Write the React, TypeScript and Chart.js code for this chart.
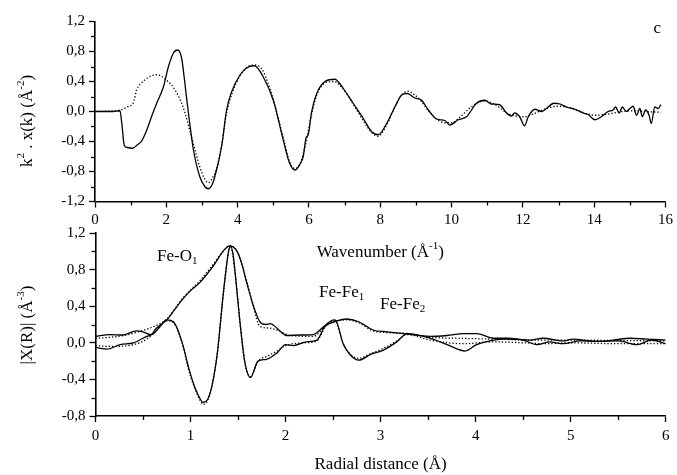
import React, { useEffect, useRef } from 'react';
import { Chart, registerables } from 'chart.js';
Chart.register(...registerables);

// ---------- Top panel: k^2 chi(k) ----------
const kExp = [0, 0.5, 0.7, 0.75, 0.82, 0.9, 1.05, 1.2, 1.3, 1.45, 1.6, 1.73, 1.92, 2.06, 2.2, 2.32, 2.43, 2.52, 2.62, 2.76, 2.94, 3.08, 3.18, 3.28, 3.36, 3.55, 3.69, 3.83, 4.07, 4.25, 4.47, 4.72, 5.0, 5.28, 5.45, 5.61, 5.75, 5.84, 5.92, 5.98, 6.07, 6.22, 6.45, 6.73, 6.85, 6.96, 7.24, 7.52, 7.76, 7.94, 8.18, 8.41, 8.6, 8.76, 8.97, 9.16, 9.35, 9.58, 9.81, 9.95, 10.19, 10.42, 10.7, 10.93, 11.12, 11.35, 11.54, 11.68, 11.77, 11.91, 12.05, 12.15, 12.34, 12.52, 12.66, 12.87, 13.04, 13.22, 13.46, 13.69, 13.83, 14.02, 14.2, 14.39, 14.53, 14.6, 14.7, 14.79, 14.9, 15.0, 15.09, 15.19, 15.28, 15.35, 15.44, 15.54, 15.6, 15.7, 15.79, 15.87];
const chiExp = [0, 0, 0.01, -0.15, -0.45, -0.48, -0.49, -0.44, -0.4, -0.25, -0.05, 0.11, 0.33, 0.6, 0.78, 0.82, 0.71, 0.38, -0.02, -0.51, -0.87, -1.0, -1.03, -0.98, -0.87, -0.47, 0.02, 0.26, 0.49, 0.58, 0.61, 0.46, 0.15, -0.38, -0.68, -0.78, -0.7, -0.6, -0.35, -0.31, -0.02, 0.24, 0.4, 0.43, 0.38, 0.31, 0.11, -0.09, -0.27, -0.31, -0.16, 0.06, 0.22, 0.24, 0.18, 0.15, 0.02, -0.1, -0.12, -0.18, -0.11, -0.07, 0.11, 0.15, 0.1, 0.09, -0.02, -0.06, -0.02, -0.07, -0.19, -0.07, 0.03, 0.0, 0.04, 0.11, 0.1, 0.06, 0.03, -0.02, -0.04, -0.11, -0.07, 0.0, 0.02, 0.06, -0.02, 0.06, 0.0, 0.04, 0.07, -0.05, 0.04, -0.07, 0.02, -0.05, -0.16, 0.06, 0.04, 0.09];

const kFit = [0, 0.7, 0.95, 1.07, 1.17, 1.35, 1.55, 1.73, 2.0, 2.24, 2.47, 2.71, 2.94, 3.08, 3.18, 3.3, 3.41, 3.55, 3.69, 3.85, 4.1, 4.3, 4.5, 4.7, 4.85, 5.0, 5.28, 5.45, 5.6, 5.75, 5.9, 6.07, 6.22, 6.45, 6.7, 6.96, 7.24, 7.52, 7.76, 7.94, 8.18, 8.41, 8.6, 8.78, 8.97, 9.16, 9.35, 9.58, 9.81, 10.0, 10.2, 10.45, 10.7, 10.93, 11.15, 11.35, 11.55, 11.8, 12.05, 12.3, 12.55, 12.8, 13.05, 13.3, 13.55, 13.8, 14.05, 14.3, 14.55, 14.8, 15.1, 15.4, 15.87];
const chiFit = [0, 0.02, 0.07, 0.11, 0.29, 0.4, 0.47, 0.49, 0.42, 0.29, 0.06, -0.34, -0.74, -0.9, -0.95, -0.88, -0.76, -0.45, -0.02, 0.25, 0.5, 0.6, 0.62, 0.55, 0.38, 0.16, -0.35, -0.66, -0.76, -0.7, -0.45, -0.05, 0.22, 0.38, 0.4, 0.3, 0.1, -0.12, -0.28, -0.33, -0.18, 0.06, 0.22, 0.27, 0.22, 0.13, 0.01, -0.1, -0.15, -0.15, -0.09, 0.02, 0.11, 0.14, 0.11, 0.05, -0.02, -0.06, -0.07, -0.03, 0.02, 0.06, 0.07, 0.05, 0.01, -0.03, -0.05, -0.04, -0.02, 0.0, 0.01, 0.0, -0.01];

const kTicks = [0, 2, 4, 6, 8, 10, 12, 14, 16];
const chiTicks = [-1.2, -0.8, -0.4, 0.0, 0.4, 0.8, 1.2];

// ---------- Bottom panel: |X(R)| ----------
const rMagExp = [0, 0.15, 0.29, 0.43, 0.5, 0.58, 0.64, 0.75, 0.83, 0.92, 1.0, 1.1, 1.24, 1.35, 1.41, 1.49, 1.54, 1.59, 1.66, 1.73, 1.79, 1.84, 1.91, 2.01, 2.15, 2.29, 2.42, 2.54, 2.64, 2.77, 2.92, 3.07, 3.24, 3.52, 3.7, 3.87, 4.01, 4.19, 4.33, 4.57, 4.71, 4.92, 5.02, 5.28, 5.45, 5.63, 5.8, 6.0];
const magExp = [0.07, 0.09, 0.085, 0.13, 0.12, 0.09, 0.16, 0.25, 0.36, 0.48, 0.57, 0.66, 0.84, 1.01, 1.06, 1.0, 0.86, 0.66, 0.41, 0.23, 0.2, 0.21, 0.16, 0.08, 0.085, 0.09, 0.19, 0.24, 0.26, 0.23, 0.14, 0.12, 0.1, 0.07, 0.08, 0.1, 0.1, 0.05, 0.05, 0.03, 0.05, 0.02, 0.04, 0.015, 0.03, 0.05, 0.04, 0.03];

const rImExp = [0, 0.12, 0.26, 0.4, 0.54, 0.61, 0.68, 0.75, 0.82, 0.91, 0.99, 1.05, 1.1, 1.13, 1.18, 1.23, 1.28, 1.35, 1.4, 1.42, 1.45, 1.47, 1.52, 1.57, 1.63, 1.71, 1.8, 1.91, 2.0, 2.08, 2.22, 2.33, 2.42, 2.52, 2.61, 2.68, 2.77, 2.89, 3.03, 3.17, 3.28, 3.52, 3.7, 3.89, 4.01, 4.19, 4.33, 4.5, 4.64, 4.78, 4.92, 5.1, 5.28, 5.5, 5.7, 5.85, 6.0];
const imExp = [-0.05, -0.07, -0.02, 0.0, 0.07, 0.1, 0.18, 0.25, 0.23, 0.01, -0.31, -0.5, -0.61, -0.65, -0.62, -0.45, -0.13, 0.59, 1.0, 1.06, 0.95, 0.76, 0.23, -0.2, -0.38, -0.2, -0.18, -0.11, -0.02, -0.03, 0.01, 0.03, 0.19, 0.25, -0.02, -0.13, -0.19, -0.13, -0.08, 0.01, 0.1, 0.05, -0.02, -0.09, -0.02, 0.03, 0.04, 0.03, -0.02, 0.01, -0.01, 0.02, 0.015, 0.02, -0.02, 0.03, -0.01];

const rMagFit = [0, 0.15, 0.3, 0.45, 0.64, 0.75, 0.92, 1.1, 1.24, 1.35, 1.41, 1.49, 1.59, 1.66, 1.73, 1.84, 1.95, 2.05, 2.29, 2.42, 2.54, 2.65, 2.77, 2.92, 3.1, 3.3, 3.52, 3.8, 4.2, 4.6, 5.0, 5.5, 6.0];
const magFit = [0.05, 0.06, 0.08, 0.12, 0.19, 0.26, 0.49, 0.68, 0.86, 1.01, 1.06, 1.0, 0.68, 0.4, 0.18, 0.16, 0.12, 0.08, 0.07, 0.18, 0.24, 0.25, 0.22, 0.13, 0.11, 0.1, 0.06, 0.05, 0.04, 0.03, 0.03, 0.025, 0.02];

const rImFit = [0, 0.15, 0.4, 0.54, 0.65, 0.75, 0.82, 0.91, 0.99, 1.1, 1.13, 1.18, 1.28, 1.35, 1.42, 1.47, 1.52, 1.57, 1.63, 1.71, 1.8, 1.91, 2.0, 2.2, 2.33, 2.42, 2.52, 2.61, 2.77, 2.89, 3.03, 3.17, 3.28, 3.52, 3.87, 4.19, 4.5, 4.71, 5.0, 5.5, 6.0];
const imFit = [-0.03, -0.04, -0.02, 0.04, 0.14, 0.24, 0.22, 0.0, -0.33, -0.63, -0.67, -0.63, -0.13, 0.58, 1.05, 0.75, 0.22, -0.21, -0.37, -0.2, -0.15, -0.09, -0.03, 0.0, 0.02, 0.18, 0.24, -0.02, -0.17, -0.12, -0.06, 0.02, 0.09, 0.03, -0.01, 0.01, 0.0, -0.01, 0.0, -0.01, -0.01];

const rTicks = [0, 1, 2, 3, 4, 5, 6];
const xrTicks = [-0.8, -0.4, 0.0, 0.4, 0.8, 1.2];

const FAMILY = "'Liberation Serif', 'Times New Roman', serif";

type Seg = { t: string; s?: 'sup' | 'sub' };

function drawRich(ctx: CanvasRenderingContext2D, segs: Seg[], x: number, y: number, size: number, align: 'left' | 'center', rot = 0) {
  ctx.save();
  ctx.translate(x, y);
  ctx.rotate(rot);
  ctx.fillStyle = '#000';
  ctx.textAlign = 'left';
  ctx.textBaseline = 'middle';
  const widths = segs.map((s) => {
    ctx.font = `${s.s ? Math.round(size * 0.62) : size}px ${FAMILY}`;
    return ctx.measureText(s.t).width;
  });
  const total = widths.reduce((a, b) => a + b, 0);
  let cx = align === 'center' ? -total / 2 : 0;
  segs.forEach((s, i) => {
    ctx.font = `${s.s ? Math.round(size * 0.62) : size}px ${FAMILY}`;
    const dy = s.s === 'sup' ? -size * 0.38 : s.s === 'sub' ? size * 0.3 : 0;
    ctx.fillText(s.t, cx, dy);
    cx += widths[i];
  });
  ctx.restore();
}

const zip = (xs: number[], ys: number[]) => xs.map((x, i) => ({ x, y: ys[i] }));

const fmt = (v: number) => v.toFixed(1).replace('.', ',');

const minorTicksPlugin = {
  id: 'minorTicks',
  afterDraw(chart: any, _args: any, opts: any) {
    const ctx = chart.ctx;
    const { left, bottom } = chart.chartArea;
    ctx.save();
    ctx.strokeStyle = '#000';
    ctx.lineWidth = 1.3;
    const xs = chart.scales.x;
    const ys = chart.scales.y;
    for (let v = xs.min + opts.x / 2; v < xs.max; v += opts.x) {
      const p = Math.round(xs.getPixelForValue(v)) + 0.5;
      ctx.beginPath();
      ctx.moveTo(p, bottom);
      ctx.lineTo(p, bottom + 4);
      ctx.stroke();
    }
    for (let v = ys.min + opts.y / 2; v < ys.max; v += opts.y) {
      const p = Math.round(ys.getPixelForValue(v)) + 0.5;
      ctx.beginPath();
      ctx.moveTo(left, p);
      ctx.lineTo(left - 4, p);
      ctx.stroke();
    }
    ctx.restore();
  },
};

const textPlugin = {
  id: 'richTexts',
  afterDraw(chart: any, _args: any, opts: any) {
    const ctx = chart.ctx;
    const ca = chart.chartArea;
    (opts.titles || []).forEach((t: any) => {
      const x = t.x === 'center' ? (ca.left + ca.right) / 2 : t.x;
      drawRich(ctx, t.segs, x, t.y, t.size, 'center', t.rot || 0);
    });
    (opts.notes || []).forEach((n: any) => {
      const px = chart.scales.x.getPixelForValue(n.x);
      const py = chart.scales.y.getPixelForValue(n.y);
      drawRich(ctx, n.segs, px, py, n.size, n.align || 'left');
    });
  },
};

const solid = (data: any[]) => ({
  data,
  borderColor: '#000',
  borderWidth: 1.3,
  pointRadius: 0,
  fill: false,
  cubicInterpolationMode: 'monotone' as const,
});
const dotted = (data: any[]) => ({
  data,
  borderColor: '#000',
  borderWidth: 1.3,
  borderDash: [1.3, 2],
  pointRadius: 0,
  fill: false,
  cubicInterpolationMode: 'monotone' as const,
});

function axisCommon(ticks: number[], isY: boolean, labelFmt: (v: number) => string, pad: number) {
  return {
    type: 'linear' as const,
    min: ticks[0],
    max: ticks[ticks.length - 1],
    afterBuildTicks: (scale: any) => {
      scale.ticks = ticks.map((v) => ({ value: v }));
    },
    grid: { display: true, drawOnChartArea: false, drawTicks: true, tickLength: 6, tickColor: '#000', tickWidth: 1.3 },
    border: { display: true, color: '#000', width: 1.6 },
    ticks: {
      color: '#000',
      font: { family: FAMILY, size: 15 },
      padding: pad,
      maxRotation: 0,
      autoSkip: false,
      callback: (v: any) => labelFmt(Number(v)),
    },
  };
}

export default function App() {
  const topRef = useRef<HTMLCanvasElement>(null);
  const botRef = useRef<HTMLCanvasElement>(null);

  useEffect(() => {
    const top = new Chart(topRef.current!, {
      type: 'line',
      data: {
        datasets: [solid(zip(kExp, chiExp)), dotted(zip(kFit, chiFit))],
      },
      options: {
        animation: false,
        responsive: false,
        devicePixelRatio: 1,
        layout: { padding: { top: 21.5, right: 11.3, left: 0, bottom: 0 } },
        plugins: {
          legend: { display: false },
          tooltip: { enabled: false },
          minorTicks: { x: 2, y: 0.4 },
          richTexts: {
            titles: [
              { segs: [{ t: 'Wavenumber (Å' }, { t: '-1', s: 'sup' }, { t: ')' }], x: 'center', y: 253, size: 17 },
              { segs: [{ t: 'k' }, { t: '2', s: 'sup' }, { t: ' . x(k) (Å' }, { t: '-2', s: 'sup' }, { t: ')' }], x: 28, y: 121, size: 17, rot: -Math.PI / 2 },
            ],
            notes: [{ segs: [{ t: 'c' }], x: 15.77, y: 1.11, size: 17, align: 'center' }],
          },
        } as any,
        scales: {
          x: { ...axisCommon(kTicks, false, (v) => String(Math.round(v)), 4), afterFit: (s: any) => { s.height = 68.5; } },
          y: { ...axisCommon(chiTicks, true, fmt, 4), afterFit: (s: any) => { s.width = 95; } },
        } as any,
      },
      plugins: [minorTicksPlugin, textPlugin],
    });

    const bot = new Chart(botRef.current!, {
      type: 'line',
      data: {
        datasets: [
          solid(zip(rMagExp, magExp)),
          solid(zip(rImExp, imExp)),
          dotted(zip(rMagFit, magFit)),
          dotted(zip(rImFit, imFit)),
        ],
      },
      options: {
        animation: false,
        responsive: false,
        devicePixelRatio: 1,
        layout: { padding: { top: 9.3, right: 11.3, left: 0.5, bottom: 0 } },
        plugins: {
          legend: { display: false },
          tooltip: { enabled: false },
          minorTicks: { x: 1, y: 0.4 },
          richTexts: {
            titles: [
              { segs: [{ t: 'Radial distance (Å)' }], x: 'center', y: 245, size: 17 },
              { segs: [{ t: '|X(R)| (Å' }, { t: '-3', s: 'sup' }, { t: ')' }], x: 28, y: 105, size: 17, rot: -Math.PI / 2 },
            ],
            notes: [
              { segs: [{ t: 'Fe-O' }, { t: '1', s: 'sub' }], x: 0.647, y: 0.946, size: 17 },
              { segs: [{ t: 'Fe-Fe' }, { t: '1', s: 'sub' }], x: 2.353, y: 0.55, size: 17 },
              { segs: [{ t: 'Fe-Fe' }, { t: '2', s: 'sub' }], x: 2.995, y: 0.42, size: 17 },
            ],
          },
        } as any,
        scales: {
          x: { ...axisCommon(rTicks, false, (v) => String(Math.round(v)), 5), afterFit: (s: any) => { s.height = 59; } },
          y: { ...axisCommon(xrTicks, true, fmt, 4), afterFit: (s: any) => { s.width = 95; } },
        } as any,
      },
      plugins: [minorTicksPlugin, textPlugin],
    });

    return () => {
      top.destroy();
      bot.destroy();
    };
  }, []);

  return (
    <div style={{ position: 'absolute', left: 0, top: 0, width: 677, height: 475, background: '#fff', overflow: 'hidden' }}>
      <canvas ref={topRef} width={677} height={270} style={{ position: 'absolute', left: 0, top: 0, width: 677, height: 270 }} />
      <canvas ref={botRef} width={677} height={255} style={{ position: 'absolute', left: 0, top: 220, width: 677, height: 255 }} />
    </div>
  );
}
